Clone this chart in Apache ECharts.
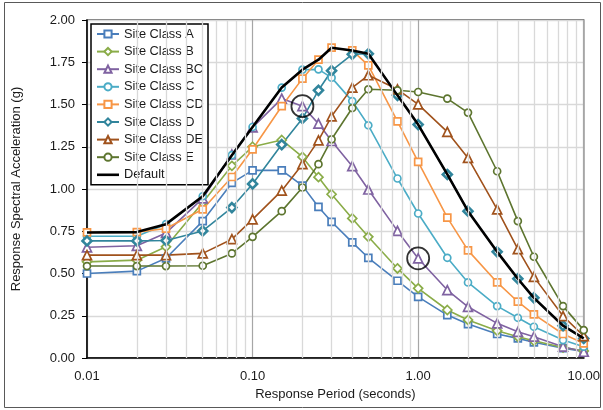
<!DOCTYPE html>
<html><head><meta charset="utf-8">
<script src="https://cdn.jsdelivr.net/npm/echarts@6/dist/echarts.min.js"></script>
<style>html,body{margin:0;padding:0;background:#fff}#c{width:603px;height:410px}</style>
</head><body><div id="c"></div>
<script>
const periods = [0.01, 0.02, 0.03, 0.05, 0.075, 0.1, 0.15, 0.2, 0.25, 0.3, 0.4, 0.5, 0.75, 1, 1.5, 2, 3, 4, 5, 7.5, 10];
const siteA  = [0.50, 0.514, 0.59, 0.81, 1.036, 1.11, 1.11, 1.02, 0.894, 0.806, 0.684, 0.593, 0.457, 0.362, 0.254, 0.201, 0.142, 0.116, 0.093, 0.058, 0.038];
const siteB  = [0.569, 0.579, 0.658, 0.92, 1.137, 1.25, 1.29, 1.19, 1.07, 0.969, 0.826, 0.717, 0.53, 0.412, 0.284, 0.225, 0.161, 0.126, 0.102, 0.062, 0.042];
const siteBC = [0.655, 0.664, 0.74, 0.945, 1.204, 1.365, 1.535, 1.49, 1.387, 1.284, 1.135, 0.997, 0.752, 0.589, 0.402, 0.303, 0.205, 0.155, 0.126, 0.067, 0.037];
const siteC  = [0.72, 0.72, 0.792, 0.957, 1.20, 1.367, 1.60, 1.706, 1.708, 1.659, 1.52, 1.377, 1.062, 0.855, 0.593, 0.447, 0.307, 0.238, 0.185, 0.106, 0.067];
const siteCD = [0.743, 0.745, 0.766, 0.88, 1.071, 1.235, 1.49, 1.653, 1.765, 1.836, 1.82, 1.732, 1.40, 1.16, 0.831, 0.637, 0.447, 0.333, 0.258, 0.142, 0.087];
const siteD  = [0.693, 0.693, 0.695, 0.752, 0.89, 1.03, 1.263, 1.417, 1.584, 1.70, 1.797, 1.80, 1.554, 1.381, 1.086, 0.869, 0.628, 0.469, 0.356, 0.191, 0.116];
const siteDE = [0.609, 0.609, 0.609, 0.619, 0.703, 0.82, 0.99, 1.147, 1.288, 1.43, 1.60, 1.673, 1.59, 1.501, 1.338, 1.184, 0.879, 0.644, 0.48, 0.248, 0.13];
const siteE  = [0.544, 0.544, 0.544, 0.546, 0.619, 0.717, 0.869, 1.009, 1.147, 1.294, 1.479, 1.59, 1.584, 1.574, 1.535, 1.452, 1.105, 0.81, 0.599, 0.307, 0.165];
const siteDefault = [0.743, 0.745, 0.792, 0.957, 1.20, 1.367, 1.60, 1.706, 1.765, 1.836, 1.82, 1.80, 1.554, 1.381, 1.086, 0.869, 0.628, 0.469, 0.356, 0.191, 0.116];
const circledIdx = [7, 13]; // highlighted Site Class BC points
const xTickLabels = {0.01: '0.01', 0.1: '0.10', 1: '1.00', 10: '10.00'};

const FONT = 'Liberation Sans';
const pairs = v => periods.map((p, i) => [p, v[i]]);
const minorX = [];
[0.01, 0.1, 1].forEach(d => { for (let k = 2; k <= 9; k++) minorX.push(+(d * k).toPrecision(3)); });

const defs = [
  ['Site Class A', siteA, '#4a7ebb', 'rect', 7],
  ['Site Class B', siteB, '#8aac48', 'diamond', 9],
  ['Site Class BC', siteBC, '#7f62a1', 'triangle', 9],
  ['Site Class C', siteC, '#4bacc6', 'circle', 7],
  ['Site Class CD', siteCD, '#f79646', 'rect', 7],
  ['Site Class D', siteD, '#31859c', 'diamond', 9],
  ['Site Class DE', siteDE, '#a0521c', 'triangle', 9],
  ['Site Class E', siteE, '#5d752f', 'circle', 7]
];
const series = defs.map(([name, vals, color, sym, size]) => ({
  name, type: 'line', data: pairs(vals), symbol: sym, symbolSize: size,
  showAllSymbol: true, z: 3,
  lineStyle: { color, width: 1.6 },
  itemStyle: { color: '#fff', borderColor: color, borderWidth: name === 'Site Class D' ? 2.6 : 1.7 },
  emphasis: { disabled: true }
}));
series.push({
  name: 'Default', type: 'line', data: pairs(siteDefault), symbol: 'none', z: 4,
  lineStyle: { color: '#000', width: 2.6 }, itemStyle: { color: '#000' }
});
series.push({
  type: 'scatter', data: circledIdx.map(i => [periods[i], siteBC[i]]), symbol: 'circle', symbolSize: 22, z: 5,
  itemStyle: { color: 'rgba(0,0,0,0)', borderColor: '#000', borderWidth: 1.8 }, silent: true
});
series.push({
  type: 'line', data: [], silent: true,
  markLine: { silent: true, symbol: 'none', label: { show: false },
    lineStyle: { color: '#d9d9d9', width: 1.3, type: 'solid' },
    data: minorX.map(v => ({ xAxis: v })) }, z: 1
});

const legendData = defs.map(d => d[0]).map(n => ({ name: n }));
legendData.push({ name: 'Default', icon: 'path://M0 0h22v2.6h-22z' });

const chart = echarts.init(document.getElementById('c'));
chart.setOption({
  animation: false,
  textStyle: { fontFamily: FONT },
  grid: { left: 87, right: 17, top: 20, bottom: 52, show: true, borderColor: '#404040', borderWidth: 1.3, backgroundColor: 'transparent' },
  xAxis: {
    type: 'log', logBase: 10, min: 0.01, max: 10,
    name: 'Response Period (seconds)', nameLocation: 'middle', nameGap: 30,
    nameTextStyle: { fontSize: 13, color: '#1a1a1a', fontFamily: FONT },
    axisLine: { lineStyle: { color: '#000', width: 1.5 } },
    axisTick: { show: false },
    axisLabel: { fontSize: 13, color: '#1a1a1a', margin: 12, fontFamily: FONT, formatter: v => xTickLabels[+v.toPrecision(3)] || '' },
    splitLine: { show: true, lineStyle: { color: '#a6a6a6', width: 1.2 } }
  },
  yAxis: {
    type: 'value', min: 0, max: 2, interval: 0.25,
    name: 'Response Spectral Acceleration (g)', nameLocation: 'middle', nameGap: 64,
    nameTextStyle: { fontSize: 13, color: '#1a1a1a', fontFamily: FONT },
    axisLine: { show: true, lineStyle: { color: '#000', width: 1.5 } },
    axisTick: { show: true, inside: false, length: 5, lineStyle: { color: '#000' } },
    axisLabel: { fontSize: 13, color: '#1a1a1a', margin: 12, fontFamily: FONT, formatter: v => v.toFixed(2) },
    splitLine: { show: true, lineStyle: { color: '#d9d9d9', width: 1.3 } }
  },
  legend: {
    orient: 'vertical', left: 91, top: 24,
    data: legendData,
    itemWidth: 22, itemHeight: 9, itemGap: 3.6,
    padding: [3, 3, 3, 5],
    borderColor: '#000', borderWidth: 1.5, backgroundColor: '#fff',
    textStyle: { fontSize: 12.8, color: '#1a1a1a', lineHeight: 14, fontFamily: FONT, width: 81, overflow: 'none' }
  },
  graphic: [{ type: 'rect', shape: { x: 4.5, y: 2.5, width: 596, height: 405 }, style: { fill: 'none', stroke: '#595959', lineWidth: 1 }, silent: true }],
  series
});
</script></body></html>
